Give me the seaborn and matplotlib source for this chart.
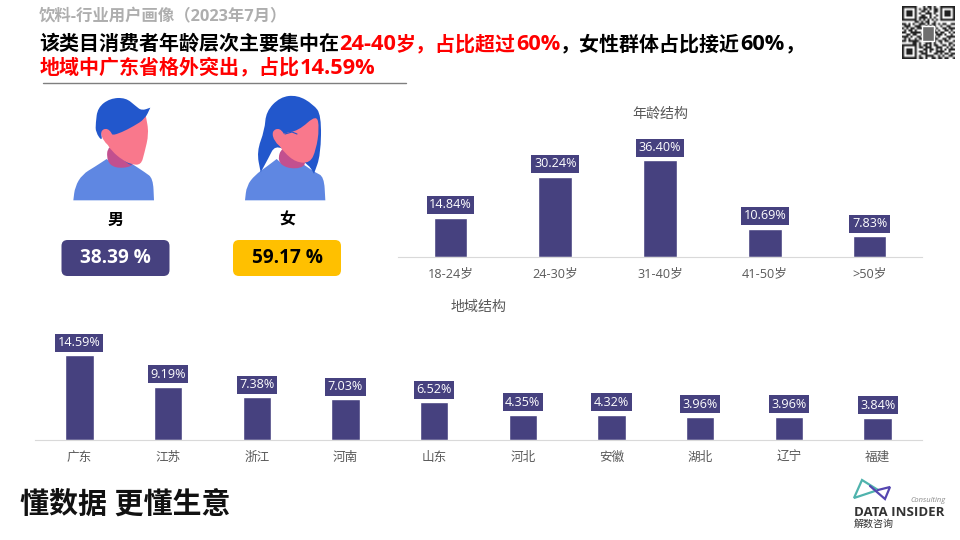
import matplotlib
matplotlib.use("Agg")
from itertools import groupby

import matplotlib.pyplot as plt
from matplotlib.patches import FancyBboxPatch, PathPatch, Rectangle
from matplotlib.path import Path
import numpy as np
import seaborn as sns

# Chart values.
age_groups = ["18-24岁", "24-30岁", "31-40岁", "41-50岁", ">50岁"]
age_share = [14.84, 30.24, 36.40, 10.69, 7.83]
regions = ["广东", "江苏", "浙江", "河南", "山东", "河北", "安徽", "湖北", "辽宁", "福建"]
region_share = [14.59, 9.19, 7.38, 7.03, 6.52, 4.35, 4.32, 3.96, 3.96, 3.84]
male_share = 38.39
female_share = 59.17

# Title pieces: text and colour, one list per line.
title_line1 = [("该类目消费者年龄层次主要集中在", "black"), ("24-40岁，占比超过60%", "#ff0000"),
               ("，女性群体占比接近60%，", "black")]
title_line2 = [("地域中广东省格外突出，占比14.59%", "#ff0000")]

# Made-up QR look, one hex number per row.
qr_rows = [0x1FC5A7F, 0x1056B41, 0x174D35D, 0x1753A5D, 0x174C95D, 0x105EA41, 0x1FD557F,
           0x006B200, 0x1A9D6B3, 0x0E72A4C, 0x15B9D37, 0x0B46E9A, 0x19F3B65, 0x06C95D2,
           0x1D36A8F, 0x0A5D734, 0x1BE4AD9, 0x00D3A46, 0x1FD6B35, 0x105B9CA, 0x1746D57,
           0x175A9E4, 0x174E35B, 0x1053CA6, 0x1FDA6D9]

BAR = "#46417f"
GREY = "#595959"
FONT = ["Open Sans", "Noto Sans CJK SC", "DejaVu Sans"]

sns.set_theme(style="white")
plt.rcParams["font.family"] = FONT

fig = plt.figure(figsize=(9.6, 5.4), dpi=100)
W, H = 960, 540


def px(size):
    """ Font size in points from a size in pixels. """
    return size * 0.72


def px_axes(left, right, top, bottom):
    """ Adds axes placed with pixel edges of the picture. """
    return fig.add_axes([left / W, 1 - bottom / H, (right - left) / W, (bottom - top) / H])


def bar_panel(rect, cats, vals, scale, width, title, title_xy):
    """ Draws one small bar chart with boxed value labels. """
    ax = px_axes(*rect)
    sns.barplot(x=cats, y=vals, color=BAR, saturation=1, width=width, ax=ax)
    ax.set_ylim(0, (rect[3] - rect[2]) / scale)
    ax.set_yticks([])
    ax.set_xlabel("")
    ax.set_ylabel("")
    ax.patch.set_alpha(0)
    sns.despine(ax=ax, left=True)
    ax.spines["bottom"].set_color("#d9d9d9")
    ax.spines["bottom"].set_linewidth(0.8)
    ax.tick_params(axis="x", length=0, pad=7.6, labelsize=px(12.6), labelcolor=GREY)
    ax.bar_label(ax.containers[0], labels=[f"{v:.2f}%" for v in vals], padding=4.4,
                 color="white", fontsize=px(12.6), clip_on=False,
                 bbox=dict(boxstyle="square,pad=0.2", fc=BAR, ec="none"))
    canvas.text(*title_xy, title, color=GREY, fontsize=px(14), ha="center", va="center")
    return ax


def smooth(points):
    """ Closed smooth path through the midpoints of the given outline. """
    pts = np.array(points, dtype=float)
    mids = (pts + np.roll(pts, -1, axis=0)) / 2
    verts = [mids[-1]]
    codes = [Path.MOVETO]
    for p, m in zip(pts, mids):
        verts += [p, m]
        codes += [Path.CURVE3, Path.CURVE3]
    return Path(verts, codes)


def blob(origin, points, color, z=3):
    """ Adds a filled shape from 3x crop coordinates of the reference. """
    pts = [(origin[0] + x / 3, origin[1] + y / 3) for x, y in points]
    canvas.add_patch(PathPatch(smooth(pts), fc=color, ec="none", zorder=z))


def pill(x0, x1, color, text, text_color):
    """ Adds a rounded percentage box. """
    canvas.add_patch(FancyBboxPatch((x0 + 5, 245), x1 - x0 - 10, 26, mutation_scale=1,
                                    boxstyle="round,pad=5,rounding_size=6", fc=color, ec="none"))
    canvas.text((x0 + x1) / 2, 258, text, color=text_color, fontsize=px(19), fontweight="bold",
                ha="center", va="center")


def line_of_text(x, y, parts):
    """ Writes coloured pieces one after the other, latin runs a bit larger. """
    renderer = fig.canvas.get_renderer()
    for s, c in parts:
        for latin, run in groupby(s, key=str.isascii):
            run = "".join(run)
            size = 21.8 if latin else 20
            t = canvas.text(x, y, run, color=c, fontsize=px(size), fontweight="bold", va="center")
            x += t.get_window_extent(renderer).width


# Full picture overlay in pixel coordinates.
canvas = fig.add_axes([0, 0, 1, 1])
canvas.set_xlim(0, W)
canvas.set_ylim(H, 0)
canvas.axis("off")

# Header.
canvas.text(39, 17, "饮料-行业用户画像（2023年7月）", color="#aeaeae", fontsize=px(16.4),
            fontweight="bold", va="center")
line_of_text(39, 45, title_line1)
line_of_text(40, 68.5, title_line2)
canvas.plot([43, 406], [82.5, 82.5], color="#7f7f7f", lw=1)

# Bar panels.
bar_panel((398, 922, 147, 257), age_groups, age_share, 2.66, 0.32, "年龄结构", (660, 114))
bar_panel((35, 922, 340, 440), regions, region_share, 5.8, 0.32, "地域结构", (479, 307))

# Male figure.
SHIRT, NECK, FACE, HAIR = "#5f87e2", "#c2508f", "#f9788c", "#2257cc"
M = (65, 95)
blob(M, [(25, 316), (25, 316), (25, 316), (30, 275), (52, 238), (90, 215), (125, 192), (125, 192),
         (125, 192), (150, 212), (200, 206), (200, 206), (200, 206), (240, 232), (264, 250),
         (267, 316), (267, 316), (267, 316)], SHIRT)
blob(M, [(128, 150), (125, 198), (150, 220), (200, 216), (208, 195), (185, 150)], NECK, 4)
blob(M, [(150, 172), (192, 210), (204, 208), (200, 190), (170, 165)], HAIR, 4.5)
blob(M, [(132, 120), (190, 95), (242, 60), (242, 60), (252, 115), (238, 175), (228, 210), (198, 208),
         (172, 195), (140, 168), (122, 140)], FACE, 5)
blob(M, [(92, 85), (98, 38), (135, 10), (182, 8), (212, 33), (230, 47), (256, 38), (256, 38),
         (240, 72), (205, 94), (170, 112), (140, 122), (128, 108), (108, 108), (112, 140), (92, 112)],
     HAIR, 6)
blob(M, [(105, 108), (128, 98), (147, 125), (140, 158), (116, 140)], FACE, 7)

# Female figure.
F = (240, 95)
blob(F, [(15, 316), (15, 316), (15, 316), (20, 272), (45, 240), (80, 215), (110, 192), (110, 192),
         (110, 192), (130, 210), (180, 212), (190, 208), (190, 208), (225, 232), (252, 245),
         (256, 316), (256, 316), (256, 316)], SHIRT)
blob(F, [(62, 232), (62, 232), (50, 170), (74, 105), (78, 50), (120, 6), (172, 0), (220, 28),
         (244, 60), (242, 180), (222, 236), (222, 236), (205, 208), (150, 172), (105, 150), (85, 190)],
     HAIR, 3.5)
blob(F, [(125, 155), (112, 198), (140, 220), (185, 220), (200, 200), (175, 155)], NECK, 4)
blob(F, [(125, 115), (175, 108), (230, 58), (238, 100), (228, 165), (210, 204), (168, 202),
         (132, 172), (110, 140)], FACE, 5)
blob(F, [(95, 108), (120, 98), (140, 130), (130, 162), (103, 140)], FACE, 6)
canvas.plot([F[0] + 45, F[0] + 52, F[0] + 57], [F[1] + 39, F[1] + 37, F[1] + 39], color=HAIR, lw=0.8, zorder=7)

canvas.text(115.5, 221, "男", color="black", fontsize=px(16), fontweight="bold", ha="center", va="center")
canvas.text(287, 221, "女", color="black", fontsize=px(16), fontweight="bold", ha="center", va="center")
pill(61.5, 169.5, BAR, f"{male_share:.2f} %", "white")
pill(233, 341, "#ffc000", f"{female_share:.2f} %", "black")

# QR code.
qr = np.array([[(row >> (24 - i)) & 1 for i in range(25)] for row in qr_rows])
canvas.imshow(1 - qr, cmap="gray", vmin=-0.15, vmax=1, extent=(902, 955, 59, 6), interpolation="bilinear",
              aspect="auto", zorder=2)
canvas.add_patch(Rectangle((922, 26), 12, 15, fc="#6e6e6e", ec="white", lw=1, zorder=3))
canvas.set_xlim(0, W)
canvas.set_ylim(H, 0)

# Slogan.
canvas.text(20, 505, "懂数据 更懂生意", color="#111111", fontsize=px(29), fontweight="bold", va="center")

# Logo.
canvas.plot([878, 862, 854, 878], [490, 480, 498, 490], color="#4fb3ad", lw=1.6, solid_joinstyle="miter")
canvas.plot([878, 890, 885, 870], [490, 487, 499, 486], color="#5546b0", lw=1.6, solid_joinstyle="miter")
canvas.text(928, 501, "Consulting", color="#8a8a8a", fontsize=px(7.5), style="italic", ha="center", va="center")
canvas.text(854, 512, "DATA INSIDER", color="#333333", fontsize=px(13.3), fontweight="bold", va="center")
canvas.text(854, 524.5, "解数咨询", color="#333333", fontsize=px(10), va="center")

fig.savefig("out.png", dpi=100, facecolor="white")
